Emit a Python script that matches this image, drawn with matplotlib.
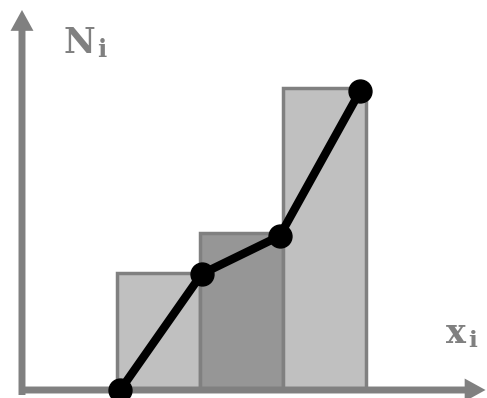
import matplotlib.pyplot as plt
from matplotlib.patches import FancyArrowPatch

# Class intervals (left edges) and bar heights
bin_left = [1, 2, 3]
bar_heights = [11.7, 15.7, 30.2]
bar_colors = ['#c0c0c0', '#969696', '#c0c0c0']

# Polygon line through the bar corners
line_x = [1.04, 2.02, 2.96, 3.93]
line_y = [0.0, 11.6, 15.4, 29.9]

GRAY = '#808080'

fig = plt.figure(figsize=(4.87, 3.98), dpi=100)
ax = fig.add_axes([0, 0, 1, 1])
ax.set_xlim(-0.41, 5.458)
ax.set_ylim(-0.8, 39.0)
ax.axis('off')

ax.bar(bin_left, bar_heights, width=1, align='edge', color=bar_colors,
       edgecolor=GRAY, linewidth=2.5, zorder=1)

arrow_style = 'simple,head_length=15,head_width=16.5,tail_width=5'
# y axis
ax.add_patch(FancyArrowPatch((-0.145, -0.5), (-0.145, 38.0), arrowstyle=arrow_style,
                             mutation_scale=1, color=GRAY, lw=0,
                             shrinkA=0, shrinkB=0, zorder=2))
# x axis
ax.add_patch(FancyArrowPatch((-0.18, 0.0), (5.44, 0.0), arrowstyle=arrow_style,
                             mutation_scale=1, color=GRAY, lw=0,
                             shrinkA=0, shrinkB=0, zorder=2))

ax.plot(line_x, line_y, color='black', linewidth=6, marker='o',
        markersize=16.5, zorder=3, solid_capstyle='round')


def label(x, y, main, sub, dx, size):
    font = dict(family='DejaVu Serif', weight='bold', color=GRAY)
    ax.text(x, y, main, fontsize=size, va='baseline', **font)
    ax.annotate(sub, (x, y), xytext=(dx, -3), textcoords='offset points',
                fontsize=size * 0.7, va='baseline', **font)


label(0.36, 33.7, 'N', 'i', 24, 25)
label(4.97, 4.7, 'x', 'i', 16, 24)

fig.savefig('out.png', dpi=100)
